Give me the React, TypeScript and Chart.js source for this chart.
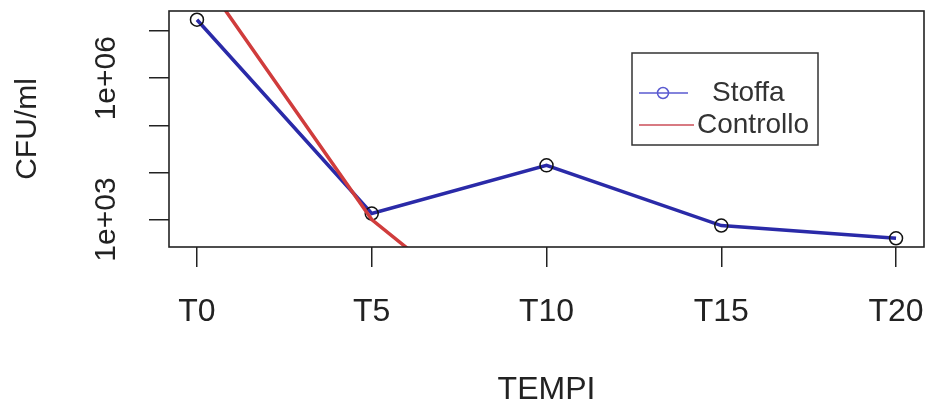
import React, { useEffect, useRef } from 'react';
import { Chart, registerables } from 'chart.js';

Chart.register(...registerables);

// ---- data ----
const categories = ['T0', 'T5', 'T10', 'T15', 'T20'];
const stoffa = [1.74e7, 1340, 14100, 745, 400];
const controllo: (number | null)[] = [2.0e8, 1000, 1, null, null];
const yTickValues = [1e3, 1e4, 1e5, 1e6, 1e7];
const yTickLabels = ['1e+03', '', '', '1e+06', ''];
const seriesNames = ['Stoffa', 'Controllo'];
const xTitle = 'TEMPI';
const yTitle = 'CFU/ml';

const FONT = '"Liberation Sans Narrow", "Liberation Sans", Arial, sans-serif';
const LEGEND_FONT = '"Liberation Sans", Arial, sans-serif';
const INK = '#222222';
const BLUE = '#2a2aa8';
const RED = '#d03c3c';

// R-style 4% padding of the axis ranges
const lMin = Math.log10(Math.min(...stoffa));
const lMax = Math.log10(Math.max(...stoffa));
const lPad = 0.04 * (lMax - lMin);
const yMin = Math.pow(10, lMin - lPad);
const yMax = Math.pow(10, lMax + lPad);
const xPad = 0.04 * (categories.length - 1);

const overlay = {
  id: 'rOverlay',
  afterDraw(chart: any) {
    const { ctx, chartArea: a, scales } = chart;
    ctx.save();
    // plot box
    ctx.strokeStyle = INK;
    ctx.lineWidth = 1.6;
    ctx.strokeRect(a.left, a.top, a.right - a.left, a.bottom - a.top);
    // y tick labels (rotated like R)
    ctx.fillStyle = INK;
    ctx.font = `30px ${FONT}`;
    ctx.textAlign = 'center';
    ctx.textBaseline = 'middle';
    yTickValues.forEach((v, i) => {
      const lab = yTickLabels[i];
      if (!lab) return;
      const y = scales.y.getPixelForValue(v);
      ctx.save();
      ctx.translate(107, y);
      ctx.rotate(-Math.PI / 2);
      ctx.fillText(lab, 0, 0);
      ctx.restore();
    });
    // legend
    const bx = 632, by = 53, bw = 186, bh = 92;
    ctx.strokeStyle = '#333';
    ctx.lineWidth = 1.5;
    ctx.strokeRect(bx, by, bw, bh);
    const rows = [93, 125];
    // Stoffa
    ctx.strokeStyle = '#5a5ad0';
    ctx.lineWidth = 1.5;
    ctx.beginPath();
    ctx.moveTo(639, rows[0]);
    ctx.lineTo(688, rows[0]);
    ctx.stroke();
    ctx.beginPath();
    ctx.arc(663, rows[0], 5.5, 0, Math.PI * 2);
    ctx.stroke();
    // Controllo
    ctx.strokeStyle = '#d87a82';
    ctx.lineWidth = 2;
    ctx.beginPath();
    ctx.moveTo(639, rows[1]);
    ctx.lineTo(694, rows[1]);
    ctx.stroke();
    ctx.fillStyle = '#333';
    ctx.font = `28px ${LEGEND_FONT}`;
    ctx.textAlign = 'left';
    ctx.textBaseline = 'middle';
    ctx.fillText(seriesNames[0], 712, rows[0]);
    ctx.fillText(seriesNames[1], 697, rows[1]);
    ctx.restore();
  },
};

export default function App() {
  const ref = useRef<HTMLCanvasElement | null>(null);

  useEffect(() => {
    if (!ref.current) return;
    const chart = new Chart(ref.current, {
      type: 'line',
      data: {
        datasets: [
          {
            label: seriesNames[0],
            data: stoffa.map((v, i) => ({ x: i, y: v })),
            borderColor: BLUE,
            borderWidth: 3.5,
            pointRadius: 6.5,
            pointBorderColor: '#111',
            pointBackgroundColor: 'rgba(0,0,0,0)',
            pointBorderWidth: 1.5,
            tension: 0,
            order: 1,
          },
          {
            label: seriesNames[1],
            data: controllo.map((v, i) => ({ x: i, y: v })),
            borderColor: RED,
            borderWidth: 3.5,
            pointRadius: 0,
            tension: 0,
            spanGaps: false,
            order: 0,
          },
        ],
      },
      options: {
        responsive: false,
        animation: false,
        devicePixelRatio: 1,
        layout: { padding: { top: 11, right: 9, left: 0, bottom: 0 } },
        plugins: { legend: { display: false }, tooltip: { enabled: false } },
        scales: {
          x: {
            type: 'linear',
            min: -xPad,
            max: categories.length - 1 + xPad,
            afterBuildTicks: (s: any) => {
              s.ticks = categories.map((_, i) => ({ value: i }));
            },
            afterFit: (s: any) => {
              s.height = 160;
              s.paddingLeft = 0;
              s.paddingRight = 0;
            },
            ticks: {
              autoSkip: false,
              maxRotation: 0,
              padding: 26,
              color: INK,
              font: { family: FONT, size: 32 },
              callback: (v: any) => categories[v] ?? '',
            },
            grid: {
              display: true,
              drawOnChartArea: false,
              drawTicks: true,
              tickLength: 20,
              color: INK,
              lineWidth: 1.5,
            },
            border: { display: false },
            title: {
              display: true,
              text: xTitle,
              color: INK,
              font: { family: FONT, size: 32 },
              padding: { top: 0, bottom: -2 },
            },
          },
          y: {
            type: 'logarithmic',
            min: yMin,
            max: yMax,
            afterBuildTicks: (s: any) => {
              s.ticks = yTickValues.map((v) => ({ value: v }));
            },
            afterFit: (s: any) => {
              s.width = 169;
            },
            ticks: { display: false },
            grid: {
              display: true,
              drawOnChartArea: false,
              drawTicks: true,
              tickLength: 20,
              color: INK,
              lineWidth: 1.5,
            },
            border: { display: false },
            title: {
              display: true,
              text: yTitle,
              color: INK,
              font: { family: FONT, size: 30 },
              padding: { top: 10, bottom: 0 },
            },
          },
        },
      },
      plugins: [overlay],
    } as any);
    return () => chart.destroy();
  }, []);

  return (
    <div style={{ position: 'absolute', left: 0, top: 0, width: 933, height: 407, background: '#fff' }}>
      <canvas ref={ref} width={933} height={407} />
    </div>
  );
}
